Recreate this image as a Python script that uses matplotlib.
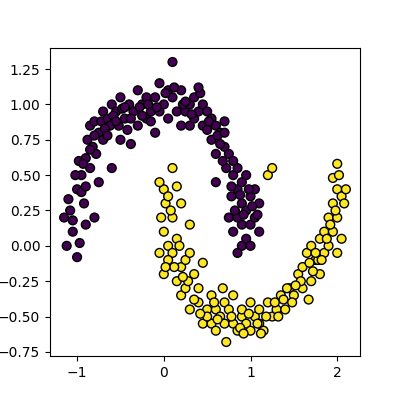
import numpy as np
import matplotlib
matplotlib.use('Agg')
import matplotlib.pyplot as plt

# 위쪽 달 (class 0)
moon0_x = [-1.1, -1.15, -1.05, -1.0, -0.97, -1.08, -1.0, -0.95, -0.92, -0.9, -1.12, -0.98, -0.9, -0.85,
           -0.88, -0.85, -0.8, -0.82, -0.75, -0.78, -0.7, -0.72, -0.65, -0.6, -0.62, -0.55, -0.5, -0.52,
           -0.45, -0.4, -0.42, -0.35, -0.3, -0.3, -0.25, -0.2, -0.2, -0.15, -0.1, -0.1, -0.05, -0.05, 0.0,
           0.05, 0.05, 0.1, 0.1, 0.15, 0.2, 0.2, 0.25, 0.3, 0.3, 0.35, 0.35, 0.4, 0.45, 0.45, 0.5, 0.55,
           0.55, 0.6, 0.6, 0.65, 0.7, 0.7, 0.72, 0.6, 0.75, 0.8, 0.78, 0.85, 0.85, 0.9, 0.9, 0.95, 0.95,
           1.0, 1.0, 1.05, 1.05, 1.1, 1.1, 0.95, 0.9, 0.85, 0.8, 0.75, 0.9, 1.0, 0.85, -0.6, -0.75, -0.8,
           -0.7, -0.5, -0.38,
           # 추가 점
           -1.05, -0.95, -0.9, -0.85, -0.8, -0.68, -0.58, -0.48, -0.38, -0.28, -0.18, -0.08, 0.02, 0.12,
           0.22, 0.32, 0.42, 0.52, 0.62, 0.68, 0.78, 0.82, 0.88, 0.92, 0.98, 1.02, 1.08, 0.7, 0.65, 0.8,
           -0.65, -0.55, -0.45, -0.25, -0.15, 0.25, 0.4, 0.5, -1.02, -0.93]
moon0_y = [0.33, 0.2, 0.1, -0.08, 0.02, 0.25, 0.4, 0.5, 0.3, 0.15, 0.0, 0.6, 0.62, 0.55, 0.75, 0.85,
           0.88, 0.7, 0.8, 0.65, 0.95, 0.88, 0.9, 1.0, 0.85, 0.95, 1.05, 0.85, 0.9, 1.0, 0.82, 0.95, 1.1,
           0.85, 1.0, 1.05, 0.9, 0.95, 1.05, 0.8, 1.15, 0.95, 1.0, 1.1, 0.9, 1.3, 1.05, 0.95, 1.1, 0.85,
           0.95, 1.0, 0.85, 1.05, 0.9, 0.95, 1.0, 0.85, 0.95, 0.9, 0.75, 0.85, 0.65, 0.8, 0.88, 0.7, 0.55,
           0.45, 0.65, 0.5, 0.35, 0.55, 0.4, 0.3, 0.45, 0.5, 0.25, 0.35, 0.15, 0.4, 0.2, 0.3, 0.1, 0.05,
           0.0, -0.05, 0.1, 0.2, 0.15, 0.0, 0.2, 0.55, 0.45, 0.2, 0.75, 0.75, 0.72,
           0.18, 0.38, 0.42, 0.68, 0.78, 0.83, 0.92, 0.97, 0.9, 0.98, 1.0, 0.98, 1.08, 1.12,
           1.0, 0.93, 1.08, 0.88, 0.78, 0.6, 0.42, 0.25, 0.36, 0.22, 0.4, 0.28, 0.22, 0.8, 0.72, 0.6,
           0.78, 0.88, 0.98, 0.92, 0.88, 1.02, 1.12, 0.82, 0.5, 0.58]

# 아래쪽 달 (class 1)
moon1_x = [0.0, -0.05, 0.02, -0.03, 0.05, 0.0, -0.05, 0.0, 0.05, 0.1, 0.1, 0.15, 0.2, 0.15, 0.2, 0.25,
           0.25, 0.3, 0.35, 0.4, 0.4, 0.45, 0.45, 0.5, 0.55, 0.55, 0.6, 0.6, 0.65, 0.7, 0.7, 0.72, 0.75,
           0.8, 0.8, 0.85, 0.9, 0.9, 0.95, 1.0, 1.0, 1.05, 1.1, 1.1, 1.15, 1.2, 1.25, 1.3, 1.35, 1.4, 1.45,
           1.5, 1.55, 1.6, 1.6, 1.65, 1.7, 1.7, 1.75, 1.8, 1.8, 1.85, 1.85, 1.9, 1.9, 1.95, 1.95, 2.0, 2.0,
           2.05, 2.05, 2.1, 2.0, 1.95, 2.0, 1.67, 1.2, 1.25, 0.2, 0.15, 0.1, 0.3, 0.05, 0.3,
           # 추가 점
           0.08, 0.12, 0.18, 0.28, 0.35, 0.5, 0.62, 0.78, 0.88, 0.98, 1.08, 1.18, 1.28, 1.38, 1.48, 1.58,
           1.68, 1.78, 1.88, 1.98, 2.08, 1.92, 1.82, 1.72, 1.52, 1.42, 1.32, 0.68, 0.58, 0.42, 0.02, 0.22,
           1.12, 0.92, 1.75, 2.02]
moon1_y = [0.4, 0.45, 0.3, 0.2, 0.35, 0.1, -0.05, -0.2, 0.0, 0.2, -0.05, 0.05, -0.15, -0.25, -0.35, -0.1,
           -0.3, -0.45, -0.2, -0.4, -0.3, -0.55, -0.12, -0.45, -0.35, -0.55, -0.45, -0.6, -0.5, -0.4,
           -0.55, -0.68, -0.45, -0.55, -0.35, -0.6, -0.5, -0.45, -0.55, -0.4, -0.6, -0.5, -0.45, -0.55,
           -0.6, -0.4, -0.5, -0.45, -0.35, -0.45, -0.3, -0.35, -0.2, -0.3, -0.15, -0.05, -0.25, 0.0, -0.1,
           0.05, -0.2, 0.1, -0.05, 0.2, 0.0, 0.3, 0.1, 0.4, 0.2, 0.35, 0.05, 0.4, 0.58, 0.48, -0.05, -0.38,
           0.5, 0.55, 0.3, 0.42, 0.55, 0.15, -0.1, -0.05,
           0.25, -0.15, 0.0, -0.25, -0.38, -0.5, -0.52, -0.5, -0.58, -0.48, -0.55, -0.5, -0.4, -0.38,
           -0.4, -0.25, -0.12, -0.1, 0.05, 0.25, 0.3, 0.15, -0.1, -0.18, -0.28, -0.3, -0.5, -0.3, -0.4,
           -0.48, -0.15, -0.22, -0.62, -0.62, -0.05, 0.5]

x = np.array(moon0_x + moon1_x)
y = np.array(moon0_y + moon1_y)
labels = np.array([0] * len(moon0_x) + [1] * len(moon1_x))

plt.figure(figsize=(4, 4), dpi=100)
plt.scatter(x, y, c=labels, cmap='viridis', edgecolors='k', s=40)
plt.savefig('out.png')
